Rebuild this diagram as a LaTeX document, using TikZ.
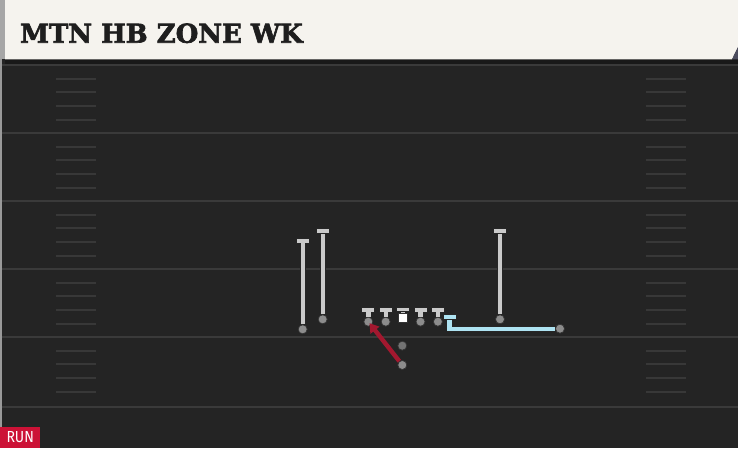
\documentclass[tikz,border=0pt]{standalone}
\usepackage{fontspec}
\newfontfamily\titlefont{DejaVu Serif Bold}[FakeBold=2.4]
\newfontfamily\tagfont{Fira Sans}[FakeStretch=0.88]
\usepackage{xcolor}
\usetikzlibrary{positioning, arrows.meta, calc}
\definecolor{field}{HTML}{242424}
\definecolor{header}{HTML}{F5F3EE}
\definecolor{titleink}{HTML}{1E1E1E}
\definecolor{yardline}{HTML}{3A3A3A}
\definecolor{hashline}{HTML}{383838}
\definecolor{routegray}{HTML}{CACACA}
\definecolor{dotgray}{HTML}{8C8C8C}
\definecolor{runred}{HTML}{A3182F}
\definecolor{tagred}{HTML}{CC1236}
\definecolor{routeblue}{HTML}{AEE3F2}

\begin{document}
\begin{tikzpicture}[x=1pt, y=-1pt, node distance = 7.7pt,
dot/.style = {circle, fill=dotgray, draw=black!80, line width=0.7pt, inner sep=0pt, minimum size=9pt},
snapbox/.style = {rectangle, fill=white, draw=black!80, line width=0.7pt, inner sep=0pt, minimum size=9pt},
tbar/.style = {rectangle, fill=routegray, draw=black!85, line width=0.7pt, inner sep=0pt, minimum width=13pt, minimum height=4.8pt},
bluebar/.style = {tbar, fill=routeblue},
route/.style = {draw=black!85, line width=0.8pt, double=routegray, double distance=4.4pt},
blueroute/.style = {route, double=routeblue},
runpath/.style = {draw=runred, line width=4.4pt, shorten >=-3pt, -{Triangle[length=9pt, width=11pt]}},
yard/.style = {draw=yardline, line width=1.8pt},
hash/.style = {draw=hashline, line width=1.4pt}]
\useasboundingbox (0,0) rectangle (738,448);
\fill[field] (0,0) rectangle (738,448);
\fill[black!40] (0,59) rectangle (2,448);
\fill[black!90] (5,59) rectangle (738,64);
\foreach \y in {65,133,201,269,337,407}
  \draw[yard] (2,\y) -- (738,\y);
\foreach \y in {65,133,201,269,337}
  \foreach \d in {14,27,41,55} {
    \draw[hash] (56,\y+\d) -- (96,\y+\d);
    \draw[hash] (646,\y+\d) -- (686,\y+\d);
  }
\fill[header] (5,0) -- (738,0) -- (738,47) -- (732,59.3) -- (5,59.3) -- cycle;
\fill[black!35] (0,0) rectangle (5,59.3);
\fill[blue!10!black!70] (738,47) -- (738,59.3) -- (732,59.3) -- cycle;
\node[anchor=base west, inner sep=0pt, text=titleink, font=\titlefont\fontsize{26}{26}\selectfont] (title) at (20,42.7) {MTN HB ZONE WK};
\node[fill=tagred, text=white, inner sep=0pt, minimum width=40pt, minimum height=21pt, anchor=south west, font=\tagfont\fontsize{16}{16}\selectfont] (tag) at (0,448) {RUN};
\node[dot] (lt) at (368.3,321.7) {};
\node[dot, right=of lt] (lg) {};
\node[snapbox, right=of lg, yshift=3.7pt] (c) {};
\node[dot, right=of c, yshift=-3.7pt] (rg) {};
\node[dot, right=of rg] (rt) {};
\node[tbar, above=4.6pt of lt] (ltblk) {};
\node[tbar, above=4.6pt of lg] (lgblk) {};
\node[tbar, above=1.1pt of c] (cblk) {};
\node[tbar, above=4.6pt of rg] (rgblk) {};
\node[tbar, above=4.6pt of rt] (rtblk) {};
\draw[route] (lt) -- (ltblk);
\draw[route] (lg) -- (lgblk);
\draw[route] (c) -- (cblk);
\draw[route] (rg) -- (rgblk);
\draw[route] (rt) -- (rtblk);
\node[dot] (wra) at (302.7,329.3) {};
\node[tbar] (wrablk) at (302.7,240.7) {};
\draw[route] (wra) -- (wrablk);
\node[dot] (wrb) at (322.7,319.3) {};
\node[tbar] (wrbblk) at (322.7,231) {};
\draw[route] (wrb) -- (wrbblk);
\node[dot] (wrc) at (500,319.3) {};
\node[tbar] (wrcblk) at (500,231) {};
\draw[route] (wrc) -- (wrcblk);
\node[dot] (te) at (560,328.7) {};
\node[bluebar] (teblk) at (449.5,317) {};
\draw[blueroute] (teblk) |- (te);
\node[dot, fill=black!55] (qb) at (402.3,345.7) {};
\node[dot] (hb) at (402.3,365) {};
\draw[runpath] (hb) -- (lt);
\end{tikzpicture}
\end{document}
